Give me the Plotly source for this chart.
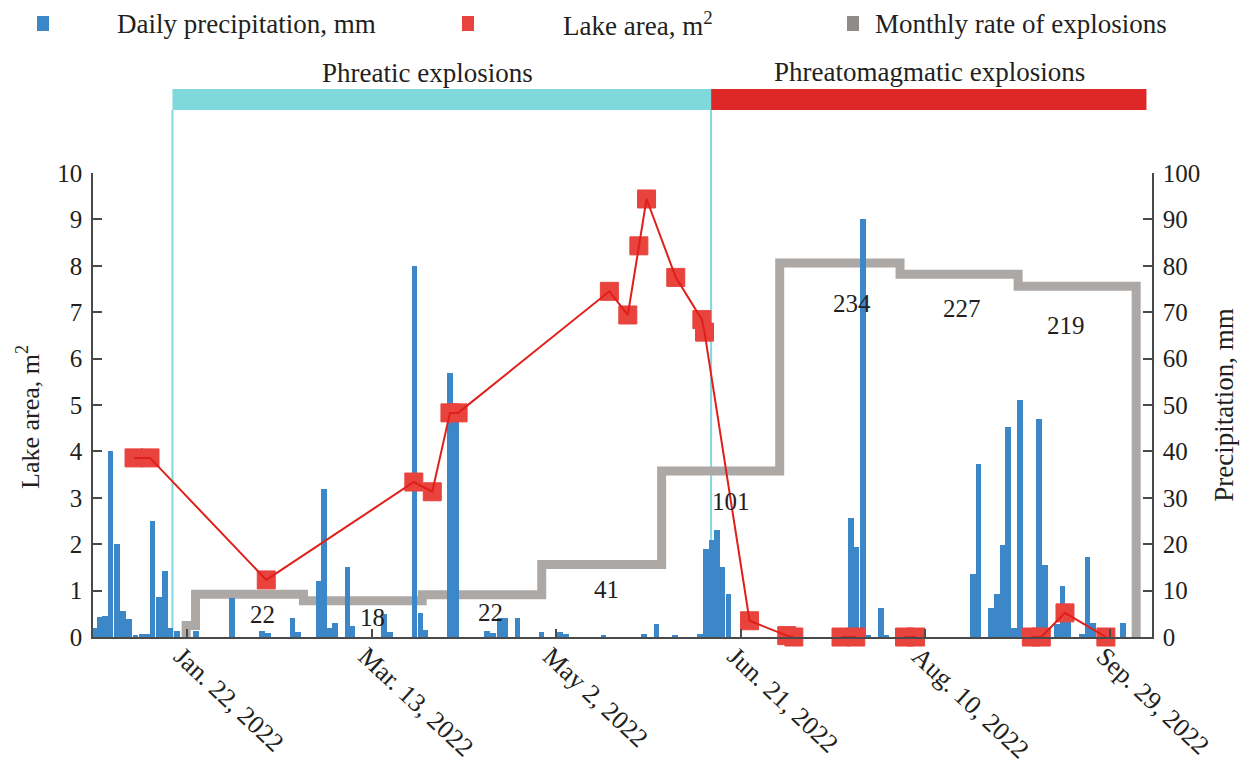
import plotly.graph_objects as go

# ---------------- data ----------------
precip_dates = [
    '2021-12-28 01:00', '2021-12-29 06:00', '2021-12-30 17:00', '2022-01-01 05:00',
    '2022-01-02 22:00', '2022-01-04 14:00', '2022-01-06 06:00', '2022-01-08 00:00',
    '2022-01-09 14:00', '2022-01-11 00:00', '2022-01-12 14:00', '2022-01-14 10:00',
    '2022-01-16 00:00', '2022-01-17 11:00', '2022-01-19 07:00', '2022-01-24 07:00',
    '2022-02-03 05:00', '2022-02-11 07:00', '2022-02-12 22:00', '2022-02-19 12:00',
    '2022-02-21 02:00', '2022-02-26 14:00', '2022-02-28 02:00', '2022-03-01 14:00',
    '2022-03-03 02:00', '2022-03-06 10:00', '2022-03-07 19:00', '2022-03-16 07:00',
    '2022-03-17 22:00', '2022-03-24 14:00', '2022-03-26 05:00', '2022-03-27 14:00',
    '2022-04-03 07:00', '2022-04-04 20:00', '2022-04-13 07:00', '2022-04-14 22:00',
    '2022-04-16 17:00', '2022-04-18 05:00', '2022-04-21 12:00', '2022-04-28 00:00',
    '2022-05-03 00:00', '2022-05-04 14:00', '2022-05-14 19:00', '2022-05-25 19:00',
    '2022-05-29 05:00', '2022-06-03 05:00', '2022-06-10 00:00', '2022-06-11 14:00',
    '2022-06-13 07:00', '2022-06-14 14:00', '2022-06-16 00:00', '2022-06-17 17:00',
    '2022-07-20 22:00', '2022-07-22 10:00', '2022-07-24 02:00', '2022-07-25 14:00',
    '2022-07-29 02:00', '2022-07-30 10:00', '2022-08-23 00:00', '2022-08-24 12:00',
    '2022-08-27 22:00', '2022-08-29 12:00', '2022-08-31 00:00', '2022-09-01 12:00',
    '2022-09-03 02:00', '2022-09-04 19:00', '2022-09-07 05:00', '2022-09-09 19:00',
    '2022-09-11 10:00', '2022-09-14 19:00', '2022-09-16 05:00', '2022-09-17 19:00',
    '2022-09-21 12:00', '2022-09-23 00:00', '2022-09-24 14:00', '2022-10-02 17:00',
]
precip_mm = [
    1.9, 4.4, 4.5, 40.0,
    20.0, 5.7, 3.8, 0.4,
    0.6, 0.6, 25.0, 8.7,
    14.2, 1.9, 1.3, 1.4,
    8.5, 1.2, 0.8, 4.0,
    1.0, 12.0, 32.0, 1.9,
    3.0, 15.0, 2.3, 5.0,
    1.0, 80.0, 5.2, 1.6,
    57.0, 47.0, 1.4, 0.8,
    4.0, 4.0, 4.0, 1.0,
    1.0, 0.6, 0.3, 0.6,
    2.7, 0.3, 0.6, 19.0,
    21.0, 23.0, 15.0, 9.2,
    25.6, 19.4, 90.0, 0.4,
    6.3, 0.3, 13.5, 37.3,
    6.3, 9.3, 19.8, 45.3,
    2.0, 51.0, 1.0, 46.9,
    15.6, 2.8, 11.0, 3.3,
    0.6, 17.2, 3.1, 3.1,
]

# lake area, m^2 (None = break in the line)
lake_dates = [
    '2022-01-07 14:00', '2022-01-11 22:00', '2022-02-12 10:00', '2022-03-24 10:00',
    '2022-03-29 10:00', '2022-04-03 05:00', '2022-04-05 10:00', '2022-05-16 10:00',
    '2022-05-21 10:00', '2022-05-24 10:00', '2022-05-26 12:00', '2022-06-03 10:00',
    '2022-06-10 12:00', '2022-06-11 05:00', '2022-06-23 10:00', '2022-07-03 12:00',
    '2022-07-05 10:00', None,
    '2022-07-18 05:00', '2022-07-22 05:00', None,
    '2022-08-04 10:00', '2022-08-07 10:00', None,
    '2022-09-07 19:00', '2022-09-10 12:00', '2022-09-16 22:00', '2022-09-28 00:00',
]
lake_area = [
    3.86, 3.86, 1.23, 3.34,
    3.13, 4.83, 4.83, 7.45,
    6.94, 8.43, 9.44, 7.75,
    6.84, 6.57, 0.35, 0.03,
    0.0, None,
    0.0, 0.0, None,
    0.0, 0.0, None,
    0.0, 0.0, 0.52, 0.0,
]

# monthly rate of explosions, drawn as a step line (level in left-axis units)
explosion_step_dates = [
    '2022-01-21 17:00', '2022-01-21 17:00', '2022-01-24 06:00', '2022-02-22 12:00',
    '2022-03-26 17:00', '2022-04-28 02:00', '2022-05-30 14:00', '2022-07-01 14:00',
    '2022-08-03 05:00', '2022-09-04 05:00', '2022-10-06 05:00',
]
explosion_step_level = [0.0, 0.25, 0.92, 0.78, 0.91, 1.56, 3.58, 8.06, 7.82, 7.56, 0.0]

monthly_counts = ['22', '18', '22', '41', '101', '234', '227', '219']

tick_dates = ['2022-01-22', '2022-03-13', '2022-05-02', '2022-06-21', '2022-08-10', '2022-09-29']
tick_text = ['Jan. 22, 2022', 'Mar. 13, 2022', 'May 2, 2022', 'Jun. 21, 2022',
             'Aug. 10, 2022', 'Sep. 29, 2022']

phreatic_start = '2022-01-18'
magmatic_start = '2022-06-13'
phase_end = '2022-10-09'

# ---------------- layout / positions ----------------
count_label_x = ['2022-02-11 07:00', '2022-03-13 02:00', '2022-04-14 05:00', '2022-05-15 17:00',
                 '2022-06-18 07:00', '2022-07-21 07:00', '2022-08-20 02:00', '2022-09-17 02:00']
count_label_y = [0.475, 0.425, 0.52, 1.03, 2.92, 7.19, 7.08, 6.72]

# the page body has an 8 px margin, so the figure is drawn 8 px smaller
OFF = 8
W, H = 1248 - OFF, 766 - OFF
PLOT_L, PLOT_R, PLOT_T, PLOT_B = 93, 1152, 173, 637      # in window pixels
ML, MR, MT, MB = PLOT_L - OFF, 1248 - PLOT_R, PLOT_T - OFF, 766 - PLOT_B
PW, PH = PLOT_R - PLOT_L, PLOT_B - PLOT_T


def px(x):
    return (x - PLOT_L) / PW


def py(y):
    return (PLOT_B - y) / PH


FONT = 'Liberation Serif'
TXT = '#231f20'
AXC = '#4a4a4a'
BLUE = '#3c87c7'
RED_M = '#e8433d'
RED_L = '#e11f1a'
GRAY = '#aca8a6'
CYAN = '#7fd8dc'
RED_BAR = '#de2827'

DAY_MS = 86400000

fig = go.Figure()

fig.add_trace(go.Scatter(
    x=explosion_step_dates, y=explosion_step_level, mode='lines',
    line=dict(color=GRAY, width=9, shape='hv'), yaxis='y',
    name='Monthly rate of explosions', showlegend=False, hoverinfo='skip'))

fig.add_trace(go.Bar(
    x=precip_dates, y=precip_mm, yaxis='y2', width=1.55 * DAY_MS,
    marker=dict(color=BLUE, line=dict(width=0)),
    name='Daily precipitation, mm', showlegend=False))

fig.add_trace(go.Scatter(
    x=lake_dates, y=lake_area, mode='markers', yaxis='y3', cliponaxis=False,
    marker=dict(symbol='square', size=18, color=RED_M, line=dict(width=1, color=RED_M)),
    name='Lake area', showlegend=False))

fig.add_trace(go.Scatter(
    x=lake_dates, y=lake_area, mode='lines', yaxis='y3', cliponaxis=False,
    line=dict(color=RED_L, width=2), connectgaps=False,
    name='Lake area line', showlegend=False, hoverinfo='skip'))

shapes = [
    # phase bars
    dict(type='rect', xref='x', yref='paper', x0=phreatic_start, x1=magmatic_start,
         y0=py(110), y1=py(89), fillcolor=CYAN, line=dict(width=0)),
    dict(type='rect', xref='x', yref='paper', x0=magmatic_start, x1=phase_end,
         y0=py(110), y1=py(89), fillcolor=RED_BAR, line=dict(width=0)),
    # boundaries of the phreatic phase
    dict(type='line', xref='x', yref='paper', x0=phreatic_start, x1=phreatic_start,
         y0=0, y1=py(110), line=dict(color=CYAN, width=2), layer='below'),
    dict(type='line', xref='x', yref='paper', x0=magmatic_start, x1=magmatic_start,
         y0=0, y1=py(110), line=dict(color=CYAN, width=2), layer='below'),
]

# legend symbols (drawn by hand to match the original spacing)
legend_items = [(37, BLUE, 117, 'Daily precipitation, mm'),
                (462, RED_M, 563, 'Lake area, m<sup>2</sup>'),
                (847, '#8f8b89', 875, 'Monthly rate of explosions')]
annotations = []
for sx, col, tx, label in legend_items:
    shapes.append(dict(type='rect', xref='paper', yref='paper',
                       x0=px(sx), x1=px(sx + 12), y0=py(31), y1=py(16),
                       fillcolor=col, line=dict(width=0)))
    annotations.append(dict(xref='paper', yref='paper', x=px(tx - 2), y=py(24),
                            xanchor='left', yanchor='middle', showarrow=False,
                            text=label, font=dict(family=FONT, size=27, color=TXT)))

annotations.append(dict(xref='paper', yref='paper', x=px(427), y=py(73),
                        xanchor='center', yanchor='middle', showarrow=False,
                        text='Phreatic explosions', font=dict(family=FONT, size=27, color=TXT)))
annotations.append(dict(xref='paper', yref='paper', x=px(929), y=py(72),
                        xanchor='center', yanchor='middle', showarrow=False,
                        text='Phreatomagmatic explosions', font=dict(family=FONT, size=27, color=TXT)))

# left axis title
annotations.append(dict(xref='paper', yref='paper', x=px(28), y=py(417), textangle=-90,
                        xanchor='center', yanchor='middle', showarrow=False,
                        text='Lake area, m<sup>2</sup>', font=dict(family=FONT, size=26, color=TXT)))

for lx, ly, t in zip(count_label_x, count_label_y, monthly_counts):
    annotations.append(dict(xref='x', yref='y', x=lx, y=ly, text=t, showarrow=False,
                            xanchor='center', yanchor='middle',
                            font=dict(family=FONT, size=25, color=TXT)))

axis_common = dict(showgrid=False, zeroline=False, showline=True, linecolor=AXC,
                   linewidth=1.5, ticks='inside', tickcolor=AXC, tickwidth=1.5)

fig.update_layout(
    width=W, height=H,
    margin=dict(l=ML, r=MR, t=MT, b=MB, autoexpand=False),
    paper_bgcolor='white', plot_bgcolor='rgba(0,0,0,0)',
    showlegend=False,
    bargap=0,
    xaxis=dict(**axis_common, type='date',
               range=['2021-12-27 11:00', '2022-10-10 12:00'],
               tickvals=tick_dates, ticktext=tick_text, tickangle=43, ticklen=8,
               ticklabelshift=-6, ticklabelstandoff=-8,
               tickfont=dict(family=FONT, size=26, color=TXT)),
    yaxis=dict(**axis_common, range=[0, 10], dtick=1, ticklen=9,
               ticklabelstandoff=4,
               tickfont=dict(family=FONT, size=25, color=TXT)),
    yaxis2=dict(**axis_common, range=[0, 100], dtick=10, ticklen=9, side='right',
                overlaying='y', ticklabelstandoff=4,
                tickfont=dict(family=FONT, size=25, color=TXT),
                title=dict(text='Precipitation, mm', standoff=15,
                           font=dict(family=FONT, size=27, color=TXT))),
    yaxis3=dict(range=[0, 10], overlaying='y', visible=False),
    shapes=shapes,
    annotations=annotations,
)

fig.write_html('out.html')
